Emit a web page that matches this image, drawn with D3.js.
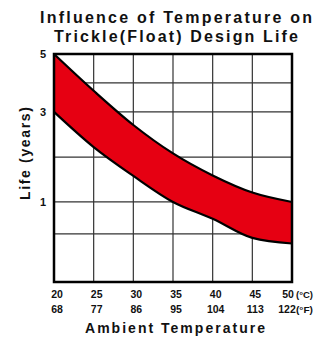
<!DOCTYPE html>
<html>
<head>
<meta charset="utf-8">
<script src="https://cdn.jsdelivr.net/npm/d3@7"></script>
<style>
  body { margin: 0; background: #fff; }
  svg { display: block; }
  text { font-family: "Liberation Sans", Arial, sans-serif; font-weight: bold; fill: #111; }
</style>
</head>
<body>
<svg id="chart" width="314" height="338"></svg>
<script>
// data
const tempC = [20, 25, 30, 35, 40, 45, 50];
const tempF = [68, 77, 86, 95, 104, 113, 122];
const lifeUpper = [5, 3.73, 2.71, 2.08, 1.59, 1.21, 1.0];
const lifeLower = [3, 2.22, 1.58, 1.0, 0.79, 0.55, 0.48];
const yLabels = [5, 3, 1];
const yGrid = [4, 2, 0.6];

const width = 314, height = 338;
const margin = { top: 54, right: 22, bottom: 56, left: 54 };
const w = width - margin.left - margin.right;
const h = height - margin.top - margin.bottom;

const svg = d3.select("#chart");
const g = svg.append("g").attr("transform", `translate(${margin.left},${margin.top})`);

const x = d3.scaleLinear().domain([20, 50]).range([0, w]);
// the life axis is not evenly spaced in the original, so piecewise
const y = d3.scaleLinear()
    .domain([0, 0.6, 1, 2, 3, 4, 5])
    .range([1, 0.789, 0.649, 0.452, 0.254, 0.127, 0].map(f => f * h));

// grid
g.append("g").selectAll("line")
    .data(tempC.slice(1, -1))
    .enter().append("line")
    .attr("x1", d => x(d)).attr("x2", d => x(d))
    .attr("y1", 0).attr("y2", h)
    .attr("stroke", "#333").attr("stroke-width", 1.2);

g.append("g").selectAll("line")
    .data(yGrid.concat(yLabels.slice(1)))
    .enter().append("line")
    .attr("x1", 0).attr("x2", w)
    .attr("y1", d => y(d)).attr("y2", d => y(d))
    .attr("stroke", "#333").attr("stroke-width", 1.2);

// band
const band = tempC.map((t, i) => ({ t, hi: lifeUpper[i], lo: lifeLower[i] }));

g.append("path")
    .datum(band)
    .attr("fill", "#e60012")
    .attr("d", d3.area()
        .x(d => x(d.t))
        .y0(d => y(d.lo))
        .y1(d => y(d.hi))
        .curve(d3.curveMonotoneX));

const edge = key => d3.line()
    .x(d => x(d.t))
    .y(d => y(d[key]))
    .curve(d3.curveMonotoneX);

["hi", "lo"].forEach(k => {
    g.append("path")
        .datum(band)
        .attr("fill", "none")
        .attr("stroke", "#000")
        .attr("stroke-width", 2.2)
        .attr("d", edge(k));
});

// frame
g.append("rect")
    .attr("width", w).attr("height", h)
    .attr("fill", "none")
    .attr("stroke", "#000")
    .attr("stroke-width", 2.5);

// y labels
g.append("g").selectAll("text")
    .data(yLabels)
    .enter().append("text")
    .attr("x", -8)
    .attr("y", d => y(d) + 4)
    .attr("text-anchor", "end")
    .attr("font-size", 11)
    .text(d => d);

// x labels, two rows (C and F)
const last = tempC.length - 1;
g.append("g").selectAll("text")
    .data(tempC)
    .enter().append("text")
    .attr("x", (d, i) => x(d) + (i === last ? -4 : 3))
    .attr("y", h + 16)
    .attr("text-anchor", "middle")
    .attr("font-size", 10.5)
    .text(d => d);

g.append("g").selectAll("text")
    .data(tempF)
    .enter().append("text")
    .attr("x", (d, i) => x(tempC[i]) + (i === last ? -5 : 3))
    .attr("y", h + 31)
    .attr("text-anchor", "middle")
    .attr("font-size", 10.5)
    .text(d => d);

g.append("text")
    .attr("x", x(50) + 4).attr("y", h + 16)
    .attr("font-size", 9.5)
    .attr("textLength", 17).attr("lengthAdjust", "spacingAndGlyphs")
    .text("(°C)");
g.append("text")
    .attr("x", x(50) + 4).attr("y", h + 31)
    .attr("font-size", 9.5)
    .attr("textLength", 17).attr("lengthAdjust", "spacingAndGlyphs")
    .text("(°F)");

// titles
svg.append("text")
    .attr("x", 40).attr("y", 23)
    .attr("font-size", 16)
    .attr("textLength", 272).attr("lengthAdjust", "spacing")
    .text("Influence of Temperature on");
svg.append("text")
    .attr("x", 54).attr("y", 42)
    .attr("font-size", 16)
    .attr("textLength", 244).attr("lengthAdjust", "spacing")
    .text("Trickle(Float) Design Life");

svg.append("text")
    .attr("x", 85).attr("y", 333)
    .attr("font-size", 14)
    .attr("textLength", 180).attr("lengthAdjust", "spacing")
    .text("Ambient Temperature");

svg.append("text")
    .attr("transform", "translate(30,200) rotate(-90)")
    .attr("font-size", 14)
    .attr("textLength", 93).attr("lengthAdjust", "spacing")
    .text("Life (years)");
</script>
</body>
</html>
